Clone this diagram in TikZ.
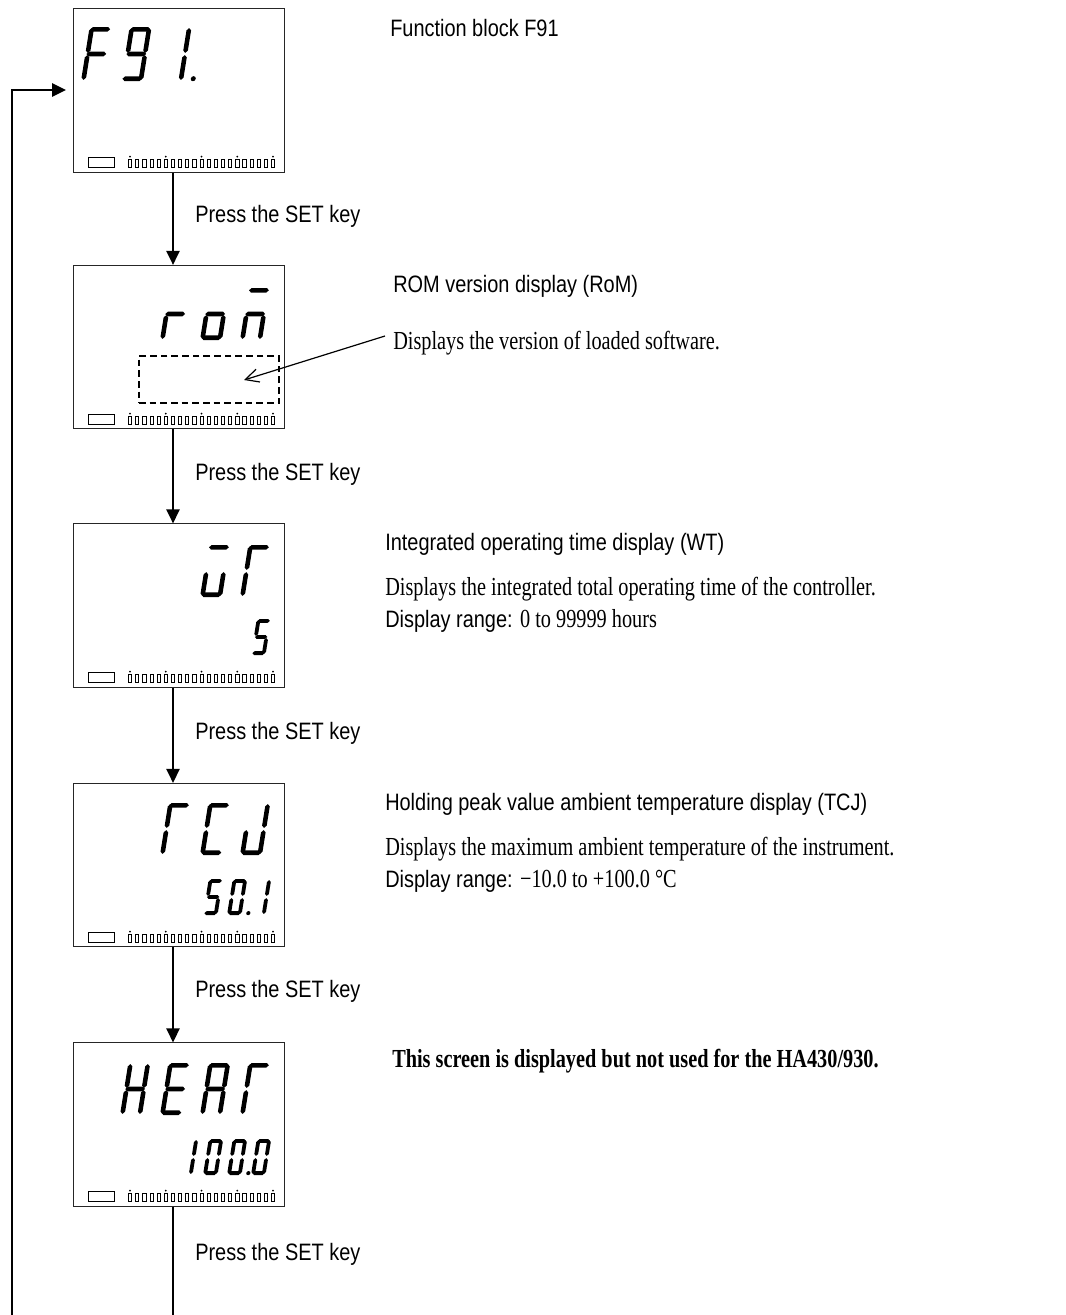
\documentclass[tikz,border=0pt]{standalone}
\usepackage{fontspec}
\newfontfamily\sansf{Liberation Sans}[FakeStretch=0.84]
\newfontfamily\seriff{Liberation Serif}[FakeStretch=0.78]
\usetikzlibrary{arrows.meta}

% seven-segment helpers (local coords: origin bottom-left, y up, units px)
\newcommand\hsg[3]{\fill ({#1},{#3}) -- ({#1+\T/2},{#3+\T/2}) -- ({#2-\T/2},{#3+\T/2}) -- ({#2},{#3}) -- ({#2-\T/2},{#3-\T/2}) -- ({#1+\T/2},{#3-\T/2}) -- cycle;}
\newcommand\vsg[3]{\fill ({#1},{#2}) -- ({#1+\T/2},{#2+\T/2}) -- ({#1+\T/2},{#3-\T/2}) -- ({#1},{#3}) -- ({#1-\T/2},{#3-\T/2}) -- ({#1-\T/2},{#2+\T/2}) -- cycle;}
\newcommand\SSa{\hsg{\G}{\W-\G}{\H-\T/2}}
\newcommand\SSg{\hsg{\G}{\W-\G}{\H/2}}
\newcommand\SSd{\hsg{\G}{\W-\G}{\T/2}}
\newcommand\SSf{\vsg{\T/2}{\H/2+\G}{\H-\G}}
\newcommand\SSe{\vsg{\T/2}{\G}{\H/2-\G}}
\newcommand\SSb{\vsg{\W-\T/2}{\H/2+\G}{\H-\G}}
\newcommand\SSc{\vsg{\W-\T/2}{\G}{\H/2-\G}}
\newcommand\SSp{\fill ({1.45*\W},{\T/2}) circle[radius={0.55*\T}];}
\newcommand\ssd[6]{%
  \begin{scope}[shift={(#1,#2)},y=0.75pt,xslant=0.16]
    \def\W{#3}\def\H{#4}\def\T{#5}\def\G{1.1}
    \foreach \s in {#6}{\csname SS\s\endcsname}
  \end{scope}}
\newcommand\bigd[3]{\ssd{#1}{#2}{22}{52}{4.6}{#3}}
\newcommand\smalld[3]{\ssd{#1}{#2}{14.5}{36}{3.8}{#3}}
% LCD bottom bar, #1 = box bottom y
\newcommand\lcdbar[1]{%
  \draw[line width=0.6pt] (88,#1-15) rectangle (114,#1-5);
  \foreach \i in {0,...,20}{
    \draw[line width=0.5pt] ({130+7.15*\i-1.6},#1-13) rectangle ({130+7.15*\i+1.6},#1-5);
  }
  \foreach \i in {0,5,10,15,20}{
    \fill ({130+7.15*\i},#1-15.5) circle[radius=1];
  }}

\begin{document}
\begin{tikzpicture}[x=0.75pt,y=-0.75pt,
  disp/.style={draw=black!85,line width=0.75pt,minimum width=158.25pt,minimum height=122.5pt,inner sep=0pt},
  flow/.style={line width=1.5pt,-{Triangle[length=10.5pt,width=10pt]}},
  plain/.style={line width=1.5pt},
  ttl/.style={anchor=base west,inner sep=0pt,font=\sansf\fontsize{17.8}{20}\selectfont},
  desc/.style={anchor=base west,inner sep=0pt,font=\seriff\fontsize{19.5}{22}\selectfont},
  press/.style={anchor=base west,inner sep=0pt,font=\sansf\fontsize{17.8}{20}\selectfont}]
\useasboundingbox (0,0) rectangle (1066,1315);

% display boxes
\node[disp] (d1) at (178.5,90.5) {};
\node[disp] (d2) at (178.5,347) {};
\node[disp] (d3) at (178.5,605.5) {};
\node[disp] (d4) at (178.5,865) {};
\node[disp] (d5) at (178.5,1124.5) {};

\lcdbar{172}
\lcdbar{429}
\lcdbar{687}
\lcdbar{947}
\lcdbar{1206}

% box 1: F91.
\ssd{81}{81}{22}{54}{4.6}{a,e,f,g}
\ssd{121}{81}{22}{54}{4.6}{a,b,c,d,f,g}
\ssd{161}{81}{22}{54}{4.6}{b,c,p}
% box 2: rom
\bigd{160}{340}{e,g}
\bigd{200}{340}{c,d,e,g}
\bigd{240}{340}{a,c,e,g}
% box 3: WT / 5
\bigd{200}{597}{a,c,d,e}
\bigd{240}{597}{a,e,f}
\smalld{251}{655}{a,c,d,f,g}
% box 4: TCJ / 50.1
\bigd{160}{855}{a,e,f}
\bigd{200}{855}{a,d,e,f}
\bigd{240}{855}{b,c,d,e}
\smalld{203}{915}{a,c,d,f,g}
\smalld{227}{915}{a,b,c,d,e,f,p}
\smalld{251}{915}{b,c}
% box 5: HEAT / 100.0
\bigd{120}{1115}{b,c,e,f,g}
\bigd{160}{1115}{a,d,e,f,g}
\bigd{200}{1115}{a,b,c,e,f,g}
\bigd{240}{1115}{a,e,f}
\smalld{178}{1175}{b,c}
\smalld{203}{1175}{a,b,c,d,e,f}
\smalld{227}{1175}{a,b,c,d,e,f,p}
\smalld{251}{1175}{a,b,c,d,e,f}

% dashed field in box 2
\node[draw,dashed,dash pattern=on 5pt off 3pt,line width=1.1pt,minimum width=105pt,minimum height=35.25pt,inner sep=0pt] (field) at (209,379.5) {};

% flow arrows
\coordinate (ax) at (173,0);
\draw[flow] (d1.south -| ax) -- (d2.north -| ax);
\draw[flow] (d2.south -| ax) -- (d3.north -| ax);
\draw[flow] (d3.south -| ax) -- (d4.north -| ax);
\draw[flow] (d4.south -| ax) -- (d5.north -| ax);
\coordinate (bend) at (173,1315);
\draw[plain] (d5.south -| ax) -- (bend);
\coordinate (lb) at (12,1315);
\coordinate (lt) at (12,90);
\coordinate (lend) at (66,90);
\draw[flow] (lb) -- (lt) -- (lend);

% texts
\node[ttl] (t1) at (390,36) {Function block F91};
\node[ttl] (t2) at (393,292) {ROM version display (RoM)};
\node[desc] (s2) at (393,349) {Displays the version of loaded software.};
\node[ttl] (t3) at (385,550) {Integrated operating time display (WT)};
\node[desc] (s3) at (385,595) {Displays the integrated total operating time of the controller.};
\node[anchor=base west,inner sep=0pt] (r3) at (385,627) {\sansf\fontsize{17.8}{20}\selectfont Display range: \seriff\fontsize{19.5}{22}\selectfont 0 to 99999 hours};
\node[ttl] (t4) at (385,810) {Holding peak value ambient temperature display (TCJ)};
\node[desc] (s4) at (385,855) {Displays the maximum ambient temperature of the instrument.};
\node[anchor=base west,inner sep=0pt] (r4) at (385,887) {\sansf\fontsize{17.8}{20}\selectfont Display range: \seriff\fontsize{19.5}{22}\selectfont \textminus10.0 to +100.0 °C};
\node[desc,font=\seriff\bfseries\fontsize{19.5}{22}\selectfont] (t5) at (392,1067) {This screen is displayed but not used for the HA430/930.};

\node[press] (p1) at (195,222) {Press the SET key};
\node[press] (p2) at (195,480) {Press the SET key};
\node[press] (p3) at (195,739) {Press the SET key};
\node[press] (p4) at (195,997) {Press the SET key};
\node[press] (p5) at (195,1260) {Press the SET key};

% pointer from description into the field
\coordinate (romtail) at (385,336);
\coordinate (romtip) at (244,380);
\draw[line width=0.9pt,-{Straight Barb[length=10pt,width=10pt]}] (romtail) -- (romtip);
\end{tikzpicture}
\end{document}
